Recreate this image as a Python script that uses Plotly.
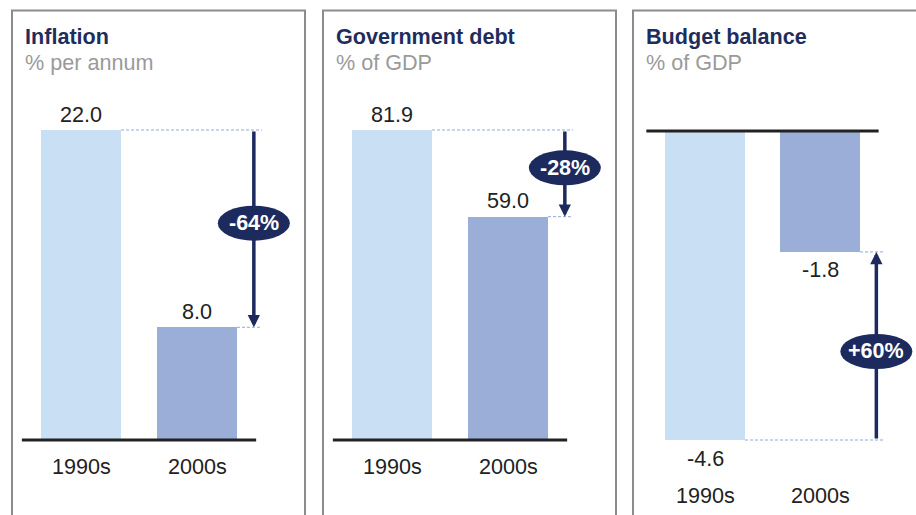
import plotly.graph_objects as go

# ---------------- data ----------------
categories = ["1990s", "2000s"]
panel_titles = ["Inflation", "Government debt", "Budget balance"]
panel_units = ["% per annum", "% of GDP", "% of GDP"]
inflation = [22.0, 8.0]
government_debt = [81.9, 59.0]
budget_balance = [-4.6, -1.8]
change_labels = ["-64%", "-28%", "+60%"]
series = [inflation, government_debt, budget_balance]

# ---------------- styling / layout ----------------
W, H = 916, 515
FONT = "Liberation Sans, Arial, sans-serif"
NAVY = "#1D2A5E"
TITLE_NAVY = "#1F2D5C"
BAR_COLORS = ["#C9DFF3", "#9BAED8"]
TEXT = "#222222"
GRAY_TEXT = "#9A9A9A"
BORDER = "#8C8C8C"
DASH = "#8FAADC"
FS = 21.6

# panel geometry in pixels
panels = [
    dict(left=12, right=305, c0=81, step=116, base=440, span=310),
    dict(left=323, right=616, c0=392, step=116, base=440, span=310),
    dict(left=633, right=926, c0=705, step=115, base=131, span=309),
]
BAR_PX = 80
ARROW_X = 1.49
DASH_END = 1.56
HEAD_PX = 11

fig = go.Figure()
shapes = []
annotations = []
layout_axes = {}

for i, (p, vals) in enumerate(zip(panels, series)):
    s = "" if i == 0 else str(i + 1)
    xr, yr = "x" + s, "y" + s
    left, right, c0, base = p["left"], p["right"], p["c0"], p["base"]
    right_vis = min(right, W)
    x_range = [(left - c0) / p["step"], (right_vis - c0) / p["step"]]
    k = p["span"] / max(abs(v) for v in vals)
    y_range = [(base - H) / k, base / k]
    bw = BAR_PX / p["step"]

    fig.add_trace(go.Bar(
        x=list(range(len(categories))), y=vals, width=bw,
        marker=dict(color=BAR_COLORS, line=dict(width=0)),
        xaxis=xr, yaxis=yr, hoverinfo="skip", showlegend=False,
    ))

    layout_axes["xaxis" + s] = dict(
        domain=[left / W, right_vis / W], range=x_range, anchor=yr,
        visible=False, fixedrange=True,
    )
    layout_axes["yaxis" + s] = dict(
        domain=[0, 1], range=y_range, anchor=xr,
        visible=False, fixedrange=True,
    )

    # panel border
    shapes.append(dict(type="rect", xref="paper", yref="paper",
                       x0=left / W, x1=right / W,
                       y0=-0.1, y1=1 - 10.5 / H,
                       line=dict(color=BORDER, width=2), layer="below"))

    # baseline
    shapes.append(dict(type="line", xref=xr, yref=yr, x0=-0.51, x1=1.51, y0=0, y1=0,
                       line=dict(color=TEXT, width=3)))

    v1, v2 = vals
    # dashed guide lines
    shapes.append(dict(type="line", xref=xr, yref=yr, x0=bw / 2, x1=DASH_END, y0=v1, y1=v1,
                       line=dict(color=DASH, width=1, dash="3px,2px")))
    shapes.append(dict(type="line", xref=xr, yref=yr, x0=1 + bw / 2, x1=DASH_END, y0=v2, y1=v2,
                       line=dict(color=DASH, width=1, dash="3px,2px")))

    # arrow
    annotations.append(dict(
        x=ARROW_X, y=v2, ax=ARROW_X, ay=v1, xref=xr, yref=yr, axref=xr, ayref=yr,
        text="", showarrow=True, arrowhead=2, arrowsize=0.7, arrowwidth=3.5,
        arrowcolor=NAVY,
    ))

    # badge
    mid = (v1 + v2) / 2
    off = HEAD_PX / 2 if v1 > v2 else -HEAD_PX / 2
    shapes.append(dict(type="circle", xref=xr, yref=yr,
                       xsizemode="pixel", ysizemode="pixel",
                       xanchor=ARROW_X, yanchor=mid,
                       x0=-36, x1=36, y0=off - 17.5, y1=off + 17.5,
                       fillcolor=NAVY, line=dict(width=0), layer="above"))
    annotations.append(dict(
        x=ARROW_X, y=mid, xref=xr, yref=yr, yshift=off,
        text="<b>%s</b>" % change_labels[i], showarrow=False,
        font=dict(family=FONT, size=21.5, color="white"),
    ))

    # value labels and category labels
    neg_panel = min(vals) < 0
    low = min(0, min(vals))
    for j, (cat, v) in enumerate(zip(categories, vals)):
        annotations.append(dict(
            x=j, y=v, xref=xr, yref=yr, yshift=16 if v >= 0 else -18,
            text="%.1f" % v, showarrow=False,
            font=dict(family=FONT, size=FS, color=TEXT),
        ))
        annotations.append(dict(
            x=j, y=low, xref=xr, yref=yr, yshift=-55 if neg_panel else -26,
            text=cat, showarrow=False,
            font=dict(family=FONT, size=FS, color=TEXT),
        ))

    # titles
    annotations.append(dict(
        x=(left + 11) / W, y=1 - 36.5 / H, xref="paper", yref="paper",
        xanchor="left", yanchor="middle", showarrow=False,
        text="<b>%s</b>" % panel_titles[i],
        font=dict(family=FONT, size=FS, color=TITLE_NAVY),
    ))
    annotations.append(dict(
        x=(left + 11) / W, y=1 - 62.5 / H, xref="paper", yref="paper",
        xanchor="left", yanchor="middle", showarrow=False,
        text=panel_units[i],
        font=dict(family=FONT, size=FS, color=GRAY_TEXT),
    ))

fig.update_layout(
    width=W, height=H,
    margin=dict(l=0, r=0, t=0, b=0),
    paper_bgcolor="white", plot_bgcolor="white",
    showlegend=False, bargap=0,
    shapes=shapes, annotations=annotations,
    **layout_axes,
)

fig.write_html(
    "out.html",
    config={"displayModeBar": False},
    post_script="document.body.style.margin='0';document.body.style.overflow='hidden';",
)
